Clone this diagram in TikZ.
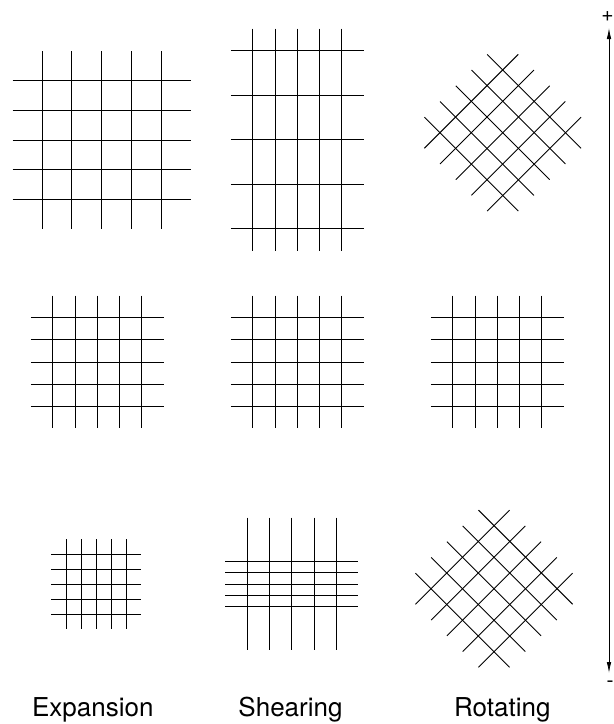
\documentclass[tikz,border=0pt]{standalone}
\usepackage{fontspec}
\setmainfont{TeX Gyre Heros}
\usetikzlibrary{arrows.meta}

% lattice of 5 x 5 lines: centre (#1,#2), spacing (#3,#4), overhang (#5,#6)
\newcommand{\drawlattice}[6]{%
  \foreach \i in {-2,...,2} {
    \draw ({#1+\i*#3}, {#2-2*#4-#6}) -- ({#1+\i*#3}, {#2+2*#4+#6});
    \draw ({#1-2*#3-#5}, {#2+\i*#4}) -- ({#1+2*#3+#5}, {#2+\i*#4});
  }%
}

\begin{document}
\begin{tikzpicture}[x=1pt, y=-1pt, line width=0.9pt,
    caption/.style={anchor=base, font=\fontsize{26}{30}\selectfont, inner sep=0pt},
    sign/.style={font=\fontsize{21}{25}\selectfont, inner sep=0pt}]
  \useasboundingbox (0,0) rectangle (614,724);
  \def\s{22.2};
  % expansion
  \drawlattice{101.7}{140}{29.8}{29.6}{29.5}{29.5}
  \drawlattice{97.3}{362}{\s}{\s}{22}{22}
  \drawlattice{96}{584}{15}{15}{15}{15}
  % shearing
  \drawlattice{297.3}{139.7}{\s}{44.5}{22}{22}
  \drawlattice{297.3}{362}{\s}{\s}{22}{22}
  \drawlattice{291.7}{584}{22.3}{11.2}{22}{44}
  % rotating
  \begin{scope}[rotate around={45:(502.7,132.7)}]
    \drawlattice{502.7}{132.7}{\s}{\s}{22}{22}
  \end{scope}
  \drawlattice{497.3}{362}{\s}{\s}{22}{22}
  \begin{scope}[rotate around={45:(494,588.7)}]
    \drawlattice{494}{588.7}{22.3}{22.3}{22}{22}
  \end{scope}
  % scale arrow
  \coordinate (top) at (609,28);
  \coordinate (bottom) at (609,673);
  \node[sign] (plus) at (607.5,17) {+};
  \node[sign] (minus) at (610,684) {-};
  \draw[line width=0.8pt, {Latex[length=11pt, width=4.5pt]}-{Latex[length=11pt, width=4.5pt]}] (top) -- (bottom);
  % captions
  \node[caption] (expansion) at (92.8,716) {Expansion};
  \node[caption] (shearing) at (290.5,716) {Shearing};
  \node[caption] (rotating) at (502.3,716) {Rotating};
\end{tikzpicture}
\end{document}
